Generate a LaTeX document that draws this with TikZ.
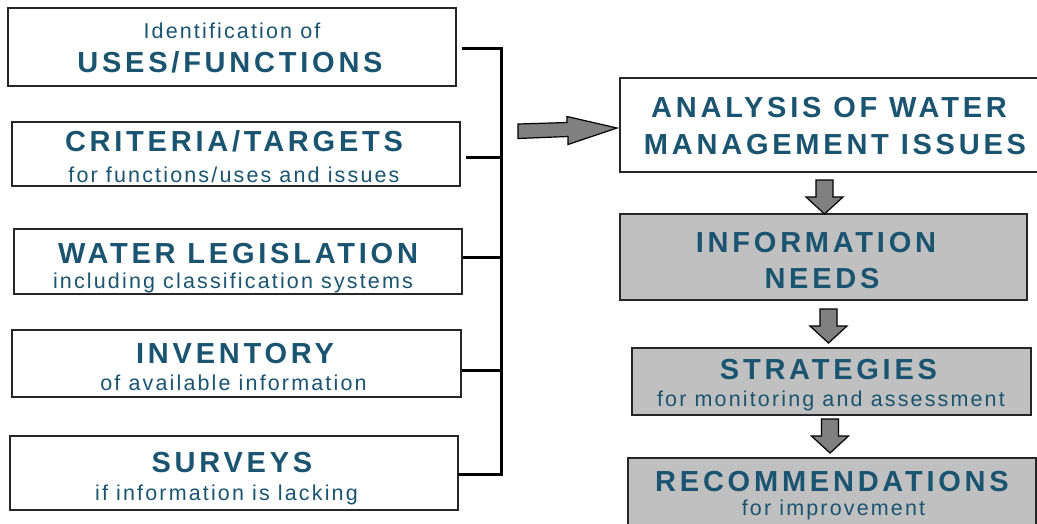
\documentclass[tikz,border=0pt]{standalone}
\usepackage{fontspec}
\setmainfont{Liberation Sans}
\newfontfamily\hdfont[LetterSpace=13]{Liberation Sans Bold}
\newfontfamily\sbfont[LetterSpace=10]{Liberation Sans}
\usetikzlibrary{calc}
\definecolor{txt}{RGB}{26,84,112}
\definecolor{boxgray}{RGB}{192,192,192}
\definecolor{arrgray}{RGB}{128,128,128}
\begin{document}
\begin{tikzpicture}[x=1pt,y=-1pt,
  box/.style={draw=black!85, line width=1.3pt, rectangle, anchor=north west, inner sep=0pt, outer sep=0pt},
  hd/.style={anchor=base, text=txt, font=\fontsize{29}{31}\selectfont\hdfont, inner sep=0pt},
  sb/.style={anchor=base, text=txt, font=\fontsize{21.5}{23}\selectfont\sbfont, inner sep=0pt},
  blk/.style={fill=arrgray, draw=black, line width=1.2pt, line join=miter},
  brk/.style={line width=3pt},
  darr/.pic={\draw[blk] (-8.5,-34) -- (8.5,-34) -- (8.5,-17) -- (18.5,-17) -- (0,0) -- (-18.5,-17) -- (-8.5,-17) -- cycle;}]
\useasboundingbox (0,0) rectangle (1037,523);
\clip (0,0) rectangle (1037,523);
% left boxes
\node[box, fill=white, minimum width=448pt, minimum height=78pt] (b1) at (8,8) {};
\node[box, fill=white, minimum width=448pt, minimum height=64pt] (b2) at (12,122) {};
\node[box, fill=white, minimum width=448pt, minimum height=65pt] (b3) at (14,229) {};
\node[box, fill=white, minimum width=449pt, minimum height=67pt] (b4) at (12,330) {};
\node[box, fill=white, minimum width=448pt, minimum height=74pt] (b5) at (10,436) {};
% right boxes
\node[box, fill=white, minimum width=430pt, minimum height=94pt] (an) at (620,78) {};
\node[box, fill=boxgray, minimum width=407pt, minimum height=86pt] (inf) at (620,214) {};
\node[box, fill=boxgray, minimum width=399pt, minimum height=67pt] (st) at (632,348) {};
\node[box, fill=boxgray, minimum width=408pt, minimum height=80pt] (rec) at (628,458) {};
% texts
\node[sb] (t1a) at (232,38) {Identification of};
\node[hd] (t1b) at (230,72) {USES/FUNCTIONS};
\node[hd] (t2a) at (234,151) {CRITERIA/TARGETS};
\node[sb] (t2b) at (234,182) {for functions/uses and issues};
\node[hd] (t3a) at (238,263) {WATER LEGISLATION};
\node[sb] (t3b) at (233,288) {including classification systems};
\node[hd] (t4a) at (235,363) {INVENTORY};
\node[sb] (t4b) at (233.5,390) {of available information};
\node[hd] (t5a) at (232,472) {SURVEYS};
\node[sb] (t5b) at (226.5,500) {if information is lacking};
\node[hd] (ana) at (829,117) {ANALYSIS OF WATER};
\node[hd] (anb) at (835,154) {MANAGEMENT ISSUES};
\node[hd] (infa) at (816,252) {INFORMATION};
\node[hd] (infb) at (822,288) {NEEDS};
\node[hd] (sta) at (828.5,379) {STRATEGIES};
\node[sb] (stb) at (831,406) {for monitoring and assessment};
\node[hd] (reca) at (832,491) {RECOMMENDATIONS};
\node[sb] (recb) at (833.5,515) {for improvement};
% bracket
\coordinate (bx) at (501,0);
\coordinate (j1) at ($(b1.east)+(6,1)$);
\coordinate (j2) at ($(b2.east)+(6,3)$);
\coordinate (j3) at ($(b3.east)+(1,-4.5)$);
\coordinate (j4) at ($(b4.east)+(1,6.5)$);
\coordinate (j5) at ($(b5.east)+(0,1)$);
\draw[brk] (j1) -| (bx |- j5) -- (j5);
\draw[brk] (j2) -- (j2 -| bx);
\draw[brk] (j3) -- (j3 -| bx);
\draw[brk] (j4) -- (j4 -| bx);
% big arrow
\draw[blk] ($(an.west)+(-102,-1)$) -- ($(an.west)+(-53,-2.5)$) -- ($(an.west)+(-53,-8.5)$) -- ($(an.west)+(-3,3)$) -- ($(an.west)+(-52,19.5)$) -- ($(an.west)+(-52,11.5)$) -- ($(an.west)+(-102,13.5)$) -- cycle;
% down arrows
\pic at ($(inf.north)+(1,0)$) {darr};
\pic at ($(st.north)+(-3,-5)$) {darr};
\pic at ($(rec.north)+(-2,-5)$) {darr};
\end{tikzpicture}
\end{document}
